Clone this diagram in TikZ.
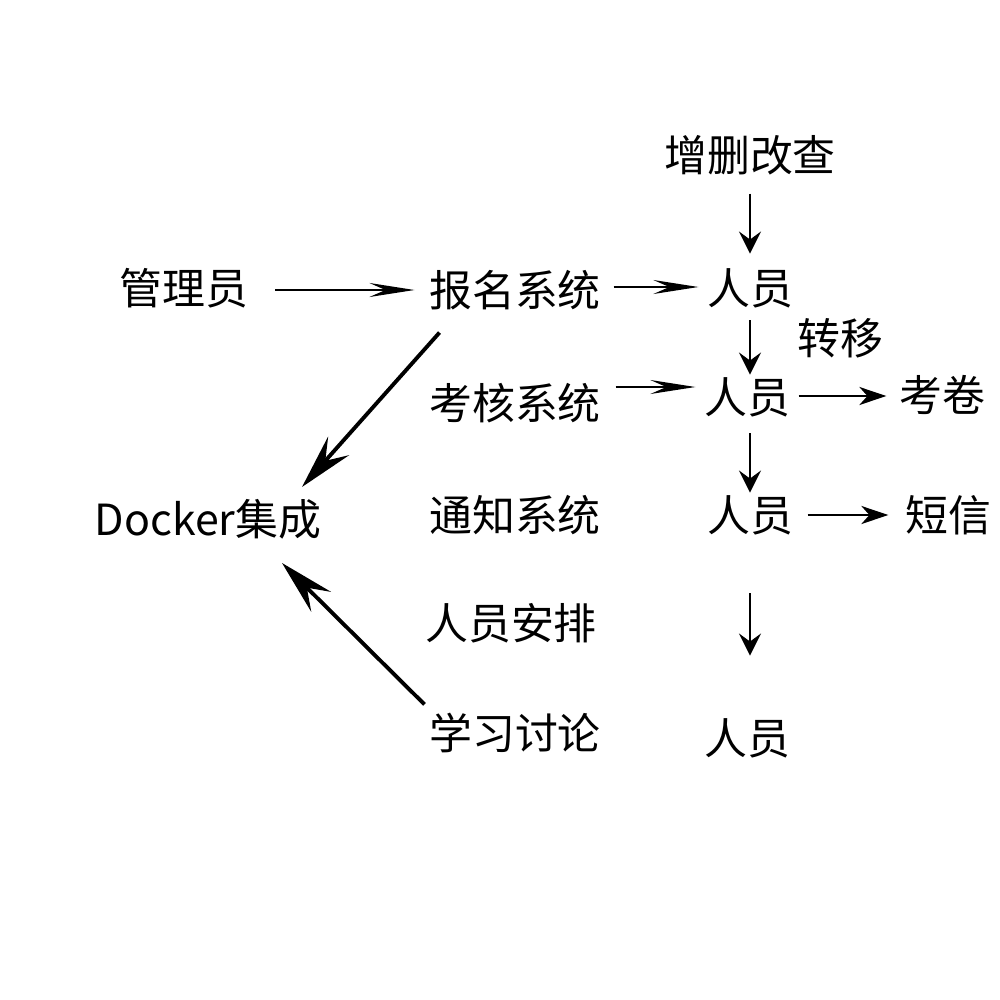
\documentclass[tikz,border=0pt]{standalone}
\usepackage{fontspec}
\setmainfont{Noto Sans CJK SC}
\usepackage{tikz}
\usetikzlibrary{positioning, arrows.meta, calc}

\begin{document}
\begin{tikzpicture}[
        x=0.01cm, y=-0.01cm,
        lbl/.style={inner sep=0pt, font=\fontsize{12.2}{14}\selectfont},
        harr/.style={-{Stealth[length=4.5mm, width=1.4mm, inset=1.6mm]}, line width=0.65pt},
        sarr/.style={-{Stealth[length=2.7mm, width=1.8mm, inset=0.8mm]}, line width=0.65pt},
        varr/.style={-{Stealth[length=2.2mm, width=2.2mm, inset=0.8mm]}, line width=0.75pt},
        darr/.style={-{Stealth[length=5.5mm, width=2.8mm, inset=2mm]}, line width=1.1pt}
    ]
        \useasboundingbox (0,0) rectangle (1000,1000);

        % left column
        \node[lbl] (admin) at (184,288) {管理员};
        \node[lbl] (docker) at (208,519) {Docker集成};

        % systems
        \node[lbl] (signup) at (515,290) {报名系统};
        \node[lbl] (exam) at (515,403) {考核系统};
        \node[lbl] (notice) at (515,515) {通知系统};
        \node[lbl] (arrange) at (511,623) {人员安排};
        \node[lbl] (study) at (515,733) {学习讨论};

        % people
        \node[lbl] (crud) at (750,155) {增删改查};
        \node[lbl] (p1) at (750,288) {人员};
        \node[lbl] (p2) at (747,397) {人员};
        \node[lbl] (p3) at (750,515) {人员};
        \node[lbl] (p4) at (747,738) {人员};
        \node[lbl] (move) at (840,338) {转移};
        \node[lbl] (paper) at (942,395) {考卷};
        \node[lbl] (sms) at (948,515) {短信};

        % arrow ends near docker
        \coordinate (dockin) at (302,487);
        \coordinate (dockout) at (282,563);

        % horizontal arrows
        \draw[harr] ($(admin.east)+(26,2)$) -- ($(signup.west)+(-14,0)$);
        \draw[harr] ($(signup.east)+(12,-3)$) -- ($(p1.west)+(-8,-1)$);
        \draw[harr] ($(exam.east)+(14,-16)$) -- ($(p2.west)+(-8,-10)$);
        \draw[sarr] ($(p2.east)+(8,-1)$) -- ($(paper.west)+(-12,1)$);
        \draw[sarr] ($(p3.east)+(14,0)$) -- ($(sms.west)+(-16,0)$);

        % vertical arrows
        \draw[varr] ($(crud.south)+(0,18)$) -- ($(p1.north)+(0,-14)$);
        \draw[varr] ($(p1.south)+(0,12)$) -- ($(p2.north)+(3,-2)$);
        \draw[varr] ($(p2.south)+(3,16)$) -- ($(p3.north)+(0,-2)$);
        \draw[varr] ($(p3.south)+(0,58)$) -- ($(p4.north)+(3,-62)$);

        % to docker
        \draw[darr] ($(signup.south west)+(11,22)$) -- (dockin);
        \draw[darr] ($(study.north west)+(-4,-8)$) -- (dockout);
    \end{tikzpicture}
\end{document}
